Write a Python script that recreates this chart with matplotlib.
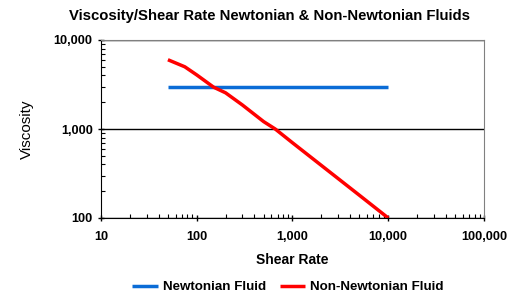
"""Viscosity vs shear rate for Newtonian and non-Newtonian fluids."""

import matplotlib

matplotlib.use("Agg")
import matplotlib.pyplot as plt
from matplotlib.ticker import FuncFormatter, LogLocator, NullFormatter

plt.rcParams["font.family"] = ["Liberation Sans", "DejaVu Sans"]

newtonian_rate = [50, 10000]
newtonian_visc = [3000, 3000]

non_newtonian_rate = [50, 75, 100, 150, 200, 300, 500, 660, 1000, 2000, 5000, 10000]
non_newtonian_visc = [6000, 5000, 4050, 2950, 2550, 1860, 1210, 1000, 700, 390, 180, 100]

x_limits = (10, 100000)
y_limits = (100, 10000)

fig = plt.figure(figsize=(5.19, 2.97), dpi=100)
ax = fig.add_axes([101 / 519, 79 / 297, 383 / 519, 178 / 297])

ax.plot(newtonian_rate, newtonian_visc, color="#0A6CD6", lw=2.5,
        label="Newtonian Fluid", solid_capstyle="butt")
ax.plot(non_newtonian_rate, non_newtonian_visc, color="#FF0000", lw=2.5,
        label="Non-Newtonian Fluid", solid_capstyle="butt")

ax.set_xscale("log")
ax.set_yscale("log")
ax.set_xlim(*x_limits)
ax.set_ylim(*y_limits)

comma = FuncFormatter(lambda v, _: f"{v:,.0f}")
ax.xaxis.set_major_formatter(comma)
ax.yaxis.set_major_formatter(comma)
ax.xaxis.set_minor_locator(LogLocator(base=10, subs=range(2, 10)))
ax.yaxis.set_minor_locator(LogLocator(base=10, subs=range(2, 10)))
ax.xaxis.set_minor_formatter(NullFormatter())
ax.yaxis.set_minor_formatter(NullFormatter())

ax.tick_params(which="major", direction="inout", length=5, width=1,
               labelsize=9.2)
ax.tick_params(axis="y", which="major", pad=3.5)
ax.tick_params(axis="x", which="major", pad=7)
ax.tick_params(which="minor", direction="in", length=3, width=0.8)
for label in ax.get_xticklabels() + ax.get_yticklabels():
    label.set_fontweight("bold")

ax.yaxis.grid(True, which="major", color="black", lw=1)
ax.xaxis.grid(False)

for side in ("top", "right"):
    ax.spines[side].set_color("#808080")
for side in ("left", "bottom"):
    ax.spines[side].set_color("black")

ax.set_xlabel("Shear Rate", fontsize=10, fontweight="bold", labelpad=7)
ax.set_ylabel("Viscosity", fontsize=11, labelpad=14)

fig.text(0.52, 0.945, "Viscosity/Shear Rate Newtonian & Non-Newtonian Fluids",
         ha="center", va="center", fontsize=10.7, fontweight="bold")

fig.legend(loc="center", bbox_to_anchor=(0.555, 0.033), ncol=2, frameon=False,
           prop={"size": 9.6, "weight": "bold"}, handlelength=1.9,
           handletextpad=0.4, columnspacing=1.0)

fig.savefig("out.png", dpi=100)
